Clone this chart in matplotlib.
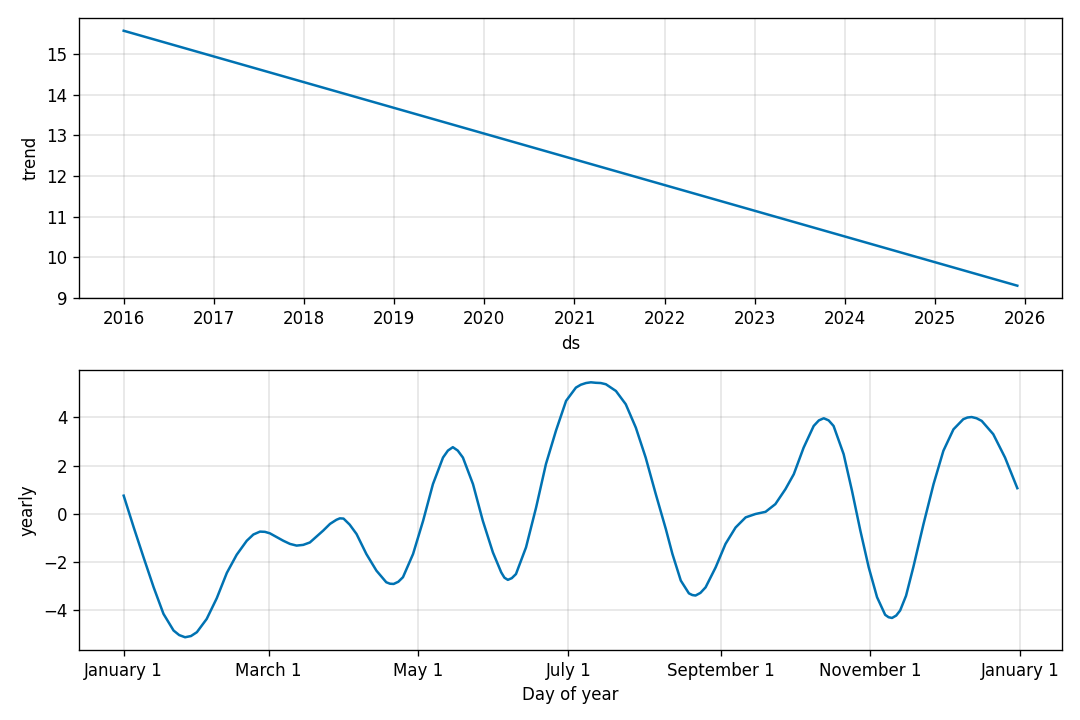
import matplotlib
matplotlib.use("Agg")
import matplotlib.pyplot as plt
import matplotlib.dates as mdates
from matplotlib.ticker import FuncFormatter
import numpy as np
from datetime import datetime

# ---- data ----
trend_dates = ["2016-01-01", "2025-12-01"]
trend_values = [15.57, 9.30]

yearly_days = [0, 4.1, 8.1, 12.2, 16.2, 20.3, 22.6, 25.0, 27.4, 29.8, 33.8, 37.9,
               42.0, 46.0, 50.1, 52.8, 55.5, 57.5, 59.5, 65.0, 67.7, 70.4, 73.1,
               75.8, 81.2, 84.0, 86.6, 88.0, 89.5, 92.0, 94.8, 98.8, 102.9, 106.9,
               108.4, 109.9, 111.8, 113.7, 117.8, 121.9, 125.9, 130.0, 132.0,
               134.0, 136.0, 138.1, 142.2, 146.2, 150.3, 153.7, 155.0, 156.4,
               158.0, 159.7, 163.8, 167.9, 171.9, 176.0, 180.1, 184.1, 186.1,
               188.2, 190.2, 192.2, 194.2, 196.3, 200.4, 204.4, 208.5, 212.5,
               216.6, 220.7, 223.4, 226.8, 230.1, 231.5, 232.8, 234.8, 236.9,
               241.0, 245.0, 249.1, 253.2, 257.2, 261.3, 265.3, 269.4, 272.8,
               276.8, 280.9, 283.0, 285.0, 287.0, 289.0, 293.1, 296.5, 299.9,
               303.3, 306.7, 310.0, 311.4, 312.8, 314.5, 316.1, 318.5, 321.5,
               325.6, 329.7, 333.7, 337.8, 341.8, 343.5, 345.2, 347.2, 349.3,
               354.0, 358.8, 363.8]
yearly_values = [0.75, -0.57, -1.81, -3.05, -4.15, -4.84, -5.03, -5.12, -5.07, -4.91,
                 -4.36, -3.50, -2.45, -1.70, -1.12, -0.86, -0.74, -0.75, -0.81, -1.12,
                 -1.25, -1.32, -1.29, -1.19, -0.70, -0.42, -0.25, -0.19, -0.20, -0.45,
                 -0.84, -1.67, -2.36, -2.84, -2.90, -2.91, -2.82, -2.63, -1.67, -0.29,
                 1.23, 2.33, 2.62, 2.76, 2.62, 2.33, 1.23, -0.29, -1.60, -2.43, -2.65,
                 -2.74, -2.67, -2.50, -1.39, 0.26, 2.06, 3.45, 4.68, 5.23, 5.35, 5.42,
                 5.45, 5.43, 5.42, 5.37, 5.09, 4.54, 3.57, 2.33, 0.82, -0.63, -1.67,
                 -2.77, -3.30, -3.37, -3.39, -3.28, -3.05, -2.22, -1.25, -0.57, -0.15,
                 -0.01, 0.08, 0.40, 1.02, 1.64, 2.74, 3.64, 3.87, 3.96, 3.87, 3.64,
                 2.47, 0.95, -0.70, -2.22, -3.46, -4.19, -4.29, -4.32, -4.22, -4.01,
                 -3.40, -2.20, -0.43, 1.23, 2.61, 3.50, 3.92, 3.99, 4.01, 3.96, 3.85,
                 3.30, 2.33, 1.06]

color = "#0072B2"

fig = plt.figure(facecolor="w", figsize=(9, 6), dpi=120)
ax1 = fig.add_subplot(2, 1, 1)
ax2 = fig.add_subplot(2, 1, 2)

# trend
tdates = [datetime.strptime(d, "%Y-%m-%d") for d in trend_dates]
ax1.plot(tdates, trend_values, ls="-", c=color)
ax1.grid(True, which="major", c="gray", ls="-", lw=1, alpha=0.2)
ax1.xaxis.set_major_locator(mdates.YearLocator())
ax1.xaxis.set_major_formatter(mdates.DateFormatter("%Y"))
ax1.set_xlabel("ds")
ax1.set_ylabel("trend")

# yearly
base = mdates.date2num(datetime(2017, 1, 1))
xs = base + np.array(yearly_days)
ax2.plot(xs, yearly_values, ls="-", c=color)
ax2.grid(True, which="major", c="gray", ls="-", lw=1, alpha=0.2)
ax2.xaxis_date()
ax2.xaxis.set_major_locator(mdates.MonthLocator(bymonthday=1, interval=2))
ax2.xaxis.set_major_formatter(FuncFormatter(
    lambda x, pos=None: "{dt:%B} {dt.day}".format(dt=mdates.num2date(x))))
ax2.set_xlabel("Day of year")
ax2.set_ylabel("yearly")

fig.subplots_adjust(left=79 / 1080, right=1062 / 1080, top=1 - 18 / 720,
                    bottom=1 - 650 / 720, hspace=71 / 280)
fig.savefig("out.png", dpi=120)
